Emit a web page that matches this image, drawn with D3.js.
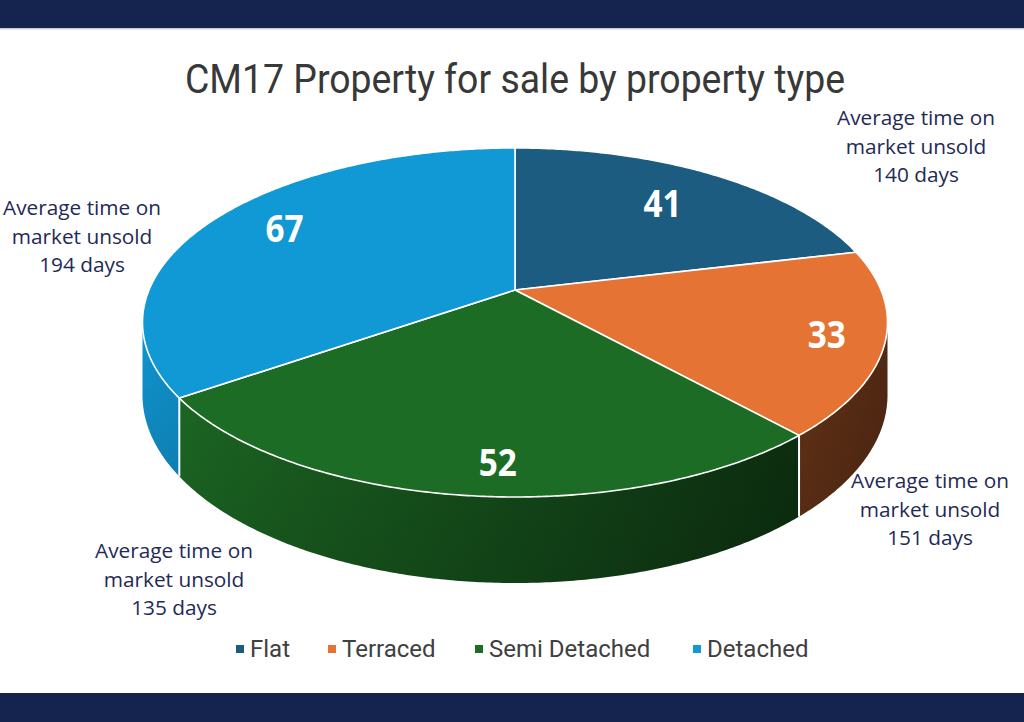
<!DOCTYPE html>
<html>
<head>
<meta charset="utf-8">
<script src="https://cdn.jsdelivr.net/npm/d3@7"></script>
<style>
  body { margin: 0; background: #fff; }
  svg { display: block; }
</style>
</head>
<body>
<div id="chart"></div>
<script>
// chart data
var categories = ["Flat", "Terraced", "Semi Detached", "Detached"];
var values = [41, 33, 52, 67];
var colors = ["#1b5c80", "#e57334", "#1d6c25", "#1199d5"];
var noteDays = [140, 151, 135, 194];
var title = "CM17 Property for sale by property type";

var width = 1024, height = 722;

var svg = d3.select("#chart").append("svg")
    .attr("width", width)
    .attr("height", height);

// frame bars
svg.append("rect").attr("x", 0).attr("y", 0).attr("width", width).attr("height", 28).attr("fill", "#15244f");
svg.append("rect").attr("x", 0).attr("y", 28).attr("width", width).attr("height", 1.5).attr("fill", "#c9cedb");
svg.append("rect").attr("x", 0).attr("y", 693).attr("width", width).attr("height", 29).attr("fill", "#15244f");

svg.append("text")
    .attr("x", 515)
    .attr("y", 93)
    .attr("text-anchor", "middle")
    .attr("textLength", 660)
    .attr("lengthAdjust", "spacingAndGlyphs")
    .style("font-family", "'Roboto', sans-serif")
    .style("font-weight", 400)
    .style("font-size", "41px")
    .style("fill", "#383838")
    .text(title);

// perspective projection of the pie disk
var cx = 515, cy = 290;
var sx = 366, sy = 168.5, k = 0.186, depth = 70;

function proj(theta, r) {
    var u = r * Math.sin(theta), v = -r * Math.cos(theta);
    var d = 1 - k * v;
    return [cx + sx * u / d, cy + sy * v / d];
}
function drop(theta) {
    var v = -Math.cos(theta);
    return depth / (1 - k * v);
}

var pie = d3.pie().sort(null).value(function(d) { return d; });
var arcs = pie(values);

var step = Math.PI / 360;
function rimPoints(a0, a1) {
    var pts = [];
    var n = Math.max(2, Math.ceil((a1 - a0) / step));
    for (var i = 0; i <= n; i++) {
        var t = a0 + (a1 - a0) * i / n;
        pts.push([t, proj(t, 1)]);
    }
    return pts;
}

var line = d3.line();

// side wall shading, darker to the right
var shade = d3.scaleLinear().domain([142, 888]).range([0.97, 0.36]);
var defs = svg.append("defs");
colors.forEach(function(c, i) {
    var g = defs.append("linearGradient")
        .attr("id", "wall" + i)
        .attr("gradientUnits", "userSpaceOnUse")
        .attr("x1", 142).attr("x2", 888).attr("y1", 0).attr("y2", 0);
    [142, 330, 515, 700, 888].forEach(function(x) {
        var base = d3.rgb(c);
        var f = shade(x);
        g.append("stop")
            .attr("offset", (x - 142) / (888 - 142))
            .attr("stop-color", d3.rgb(base.r * f, base.g * f, base.b * f));
    });
});
var vg = defs.append("linearGradient").attr("id", "wallShadow")
    .attr("x1", 0).attr("x2", 0).attr("y1", 0).attr("y2", 1);
vg.append("stop").attr("offset", 0).attr("stop-color", "#000").attr("stop-opacity", 0);
vg.append("stop").attr("offset", 1).attr("stop-color", "#000").attr("stop-opacity", 0.12);

// visible part of the rim (front half under perspective)
var visMin = Math.acos(-k), visMax = 2 * Math.PI - Math.acos(-k);

var walls = svg.append("g");
arcs.forEach(function(a, i) {
    var a0 = Math.max(a.startAngle, visMin), a1 = Math.min(a.endAngle, visMax);
    if (a1 <= a0) return;
    var top = rimPoints(a0, a1);
    var pts = top.map(function(p) { return p[1]; });
    var bottom = top.slice().reverse().map(function(p) { return [p[1][0], p[1][1] + drop(p[0])]; });
    var d = line(pts.concat(bottom)) + "Z";
    walls.append("path").attr("d", d).attr("fill", "url(#wall" + i + ")");
    walls.append("path").attr("d", d).attr("fill", "url(#wallShadow)");
});
// seams on the side
arcs.forEach(function(a) {
    var t = a.startAngle;
    if (t > visMin && t < visMax) {
        var p = proj(t, 1);
        walls.append("line")
            .attr("x1", p[0]).attr("y1", p[1])
            .attr("x2", p[0]).attr("y2", p[1] + drop(t))
            .attr("stroke", "#fff").attr("stroke-width", 2);
    }
});

// top faces
var tops = svg.append("g");
arcs.forEach(function(a, i) {
    var pts = [[cx, cy]].concat(rimPoints(a.startAngle, a.endAngle).map(function(p) { return p[1]; }));
    tops.append("path")
        .attr("d", line(pts) + "Z")
        .attr("fill", colors[i])
        .attr("stroke", "#fff")
        .attr("stroke-width", 1.6)
        .attr("stroke-linejoin", "round");
});

// value labels
var labelR = [0.72, 0.85, 0.86, 0.78];
var labelPos = [0.5, 0.5, 0.46, 0.52]; // where in the slice the label sits
arcs.forEach(function(a, i) {
    var mid = a.startAngle + (a.endAngle - a.startAngle) * labelPos[i];
    var p = proj(mid, labelR[i]);
    svg.append("text")
        .attr("transform", "translate(" + p[0] + "," + p[1] + ") scale(0.9,1)")
        .attr("text-anchor", "middle")
        .attr("dy", "0.36em")
        .style("font-family", "'Open Sans', sans-serif")
        .style("font-weight", "bold")
        .style("font-size", "37px")
        .style("fill", "#fff")
        .text(values[i]);
});

// annotations
var notePos = [[916, 118], [930, 481], [174, 551], [82, 208]];
noteDays.forEach(function(dys, i) {
    var t = svg.append("text")
        .attr("x", notePos[i][0])
        .attr("y", notePos[i][1])
        .attr("text-anchor", "middle")
        .style("font-family", "'Open Sans', sans-serif")
        .style("font-size", "20.8px")
        .style("fill", "#1f2a56");
    ["Average time on", "market unsold", dys + " days"].forEach(function(s, j) {
        t.append("tspan").attr("x", notePos[i][0]).attr("dy", j === 0 ? "0.35em" : 28.5).text(s);
    });
});

// legend
var legendX = [236, 328, 475, 693];
var legend = svg.append("g");
categories.forEach(function(c, i) {
    legend.append("rect")
        .attr("x", legendX[i]).attr("y", 645)
        .attr("width", 8).attr("height", 8)
        .attr("fill", colors[i]);
    legend.append("text")
        .attr("x", legendX[i] + 14)
        .attr("y", 657)
        .style("font-family", "'Roboto', sans-serif")
        .style("font-size", "24px")
        .style("fill", "#404040")
        .text(c);
});
</script>
</body>
</html>
